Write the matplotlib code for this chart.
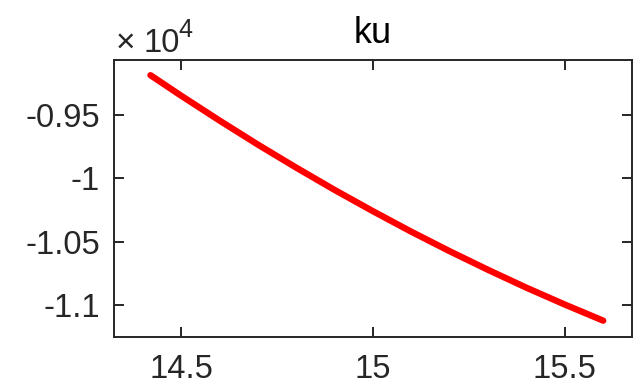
import numpy as np
import matplotlib
matplotlib.use("Agg")
from matplotlib import pyplot as plt
from matplotlib.ticker import FuncFormatter

# ku curve, sampled every 0.1
x = [14.42, 14.5, 14.6, 14.7, 14.8, 14.9, 15.0, 15.1, 15.2, 15.3, 15.4, 15.5, 15.6]
ku = [-9186, -9348, -9544, -9734, -9916, -10092, -10260, -10422, -10576,
      -10723, -10864, -10997, -11124]

xticks = [14.5, 15, 15.5]
yticks = [-9500, -10000, -10500, -11000]
scale = 1e4

plt.rcParams['font.family'] = ['Liberation Sans', 'DejaVu Sans']
dark = '#262626'

fig = plt.figure(figsize=(6.41, 3.9), dpi=100)
ax = fig.add_axes([114/641, 53/390, 518/641, 277/390])

ax.plot(x, ku, color='red', lw=4.6, solid_capstyle='round')

ax.set_xlim(14.325, 15.675)
ax.set_ylim(-11253, -9066)
ax.set_xticks(xticks)
ax.set_yticks(yticks)
ax.xaxis.set_major_formatter(FuncFormatter(lambda v, p: '%g' % v))
ax.yaxis.set_major_formatter(FuncFormatter(lambda v, p: '%g' % (v / scale)))

ax.tick_params(direction='in', length=7, width=1.4, colors=dark,
               labelsize=23.5, top=True, right=True)
ax.tick_params(axis='x', pad=12)
ax.tick_params(axis='y', pad=10)
for s in ax.spines.values():
    s.set_linewidth(1.4)
    s.set_color(dark)

ax.set_title('ku', fontsize=26, pad=12, color='black')

# exponent label above the y axis
fig.text(116/641, 1 - 52/390, '\u00d7', fontsize=24, color=dark, va='baseline')
fig.text(143/641, 1 - 52/390, '10', fontsize=23.5, color=dark, va='baseline')
fig.text(178/641, 1 - 37/390, '4', fontsize=18, color=dark, va='baseline')

fig.savefig('out.png', dpi=100)
